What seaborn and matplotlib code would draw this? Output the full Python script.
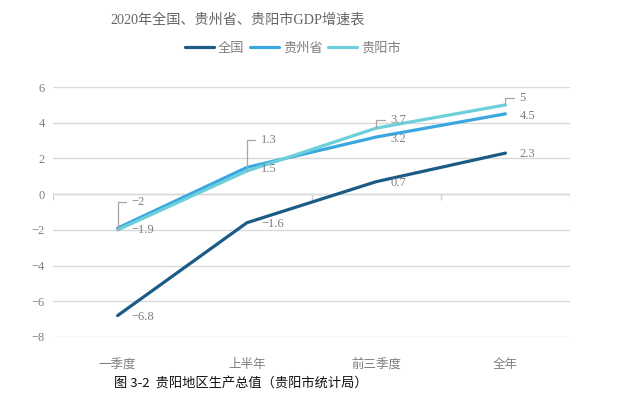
import matplotlib
matplotlib.use("Agg")
import matplotlib.pyplot as plt
import pandas as pd
import seaborn as sns

# data
periods = ["一季度", "上半年", "前三季度", "全年"]
national = [-6.8, -1.6, 0.7, 2.3]
guizhou = [-1.9, 1.5, 3.2, 4.5]
guiyang = [-2, 1.3, 3.7, 5]
series_names = ["全国", "贵州省", "贵阳市"]
colors = ["#1b5b86", "#3aa8e0", "#6ccfdb"]

df = pd.concat([
    pd.DataFrame({"period": periods, "value": vals, "region": name})
    for name, vals in zip(series_names, [national, guizhou, guiyang])
])

sns.set_style("white")
plt.rcParams["font.family"] = ["Liberation Serif", "Noto Sans CJK SC", "DejaVu Sans"]
plt.rcParams["axes.unicode_minus"] = True

fig = plt.figure(figsize=(6.34, 3.94), dpi=100)
ax = fig.add_axes([0.0836, 0.1447, 0.8155, 0.6343])

sns.lineplot(data=df, x="period", y="value", hue="region", palette=colors,
             sort=False, linewidth=2.3, ax=ax, legend=False)

ax.set_xlim(-0.5, 3.5)
ax.set_ylim(-8, 6)
ax.set_yticks(range(-8, 7, 2))
ax.set_xticks(range(len(periods)))
ax.set_xticklabels(periods)
ax.set_xlabel("")
ax.set_ylabel("")
ax.grid(axis="y", color="#d9d9d9", linewidth=1)
ax.set_axisbelow(True)
for s in ax.spines.values():
    s.set_visible(False)
ax.tick_params(axis="both", length=0, labelsize=9, labelcolor="#7f7f7f")
ax.tick_params(axis="x", pad=16)
ax.tick_params(axis="y", pad=6)

# category axis crossing at zero with boundary ticks
ax.axhline(0, color="#d0d0d0", linewidth=1, zorder=0.5)
ax.vlines([i - 0.5 for i in range(len(periods) + 1)], -0.3, 0,
          color="#d0d0d0", linewidth=1, zorder=0.5)

label_kw = dict(textcoords="offset pixels", fontsize=9, color="#7f7f7f",
                va="center", ha="left")


def fmt(v):
    return f"{v:g}".replace("-", "\u2212")


for i, v in enumerate(national):
    ax.annotate(fmt(v), (i, v), xytext=(14, -1), **label_kw)
for i, v in enumerate(guizhou):
    ax.annotate(fmt(v), (i, v), xytext=(14, -2), **label_kw)
lift = [28, 31, 8, 7]
for i, v in enumerate(guiyang):
    ax.annotate(fmt(v), (i, v), xytext=(14, lift[i]),
                arrowprops=dict(arrowstyle="-", color="#a6a6a6", lw=0.9,
                                connectionstyle="angle,angleA=0,angleB=90,rad=0",
                                relpos=(0, 0.5), patchA=None,
                                shrinkA=4, shrinkB=0),
                **label_kw)

fig.text(0.374, 0.95, "2020年全国、贵州省、贵阳市GDP增速表", ha="center", va="center",
         fontsize=10.2, color="#666666")

handles = [plt.Line2D([], [], color=c, linewidth=2.3) for c in colors]
fig.legend(handles, series_names, loc="center", bbox_to_anchor=(0.462, 0.877),
           ncol=3, frameon=False, fontsize=9.5, handlelength=2.2, handletextpad=0.3,
           columnspacing=0.4, labelcolor="#7f7f7f")

fig.text(0.38, 0.028, "图 3-2  贵阳地区生产总值（贵阳市统计局）", ha="center", va="center",
         fontsize=9.5, color="#111111", family=["Noto Sans CJK SC", "DejaVu Sans"])

fig.savefig("out.png", dpi=100)
